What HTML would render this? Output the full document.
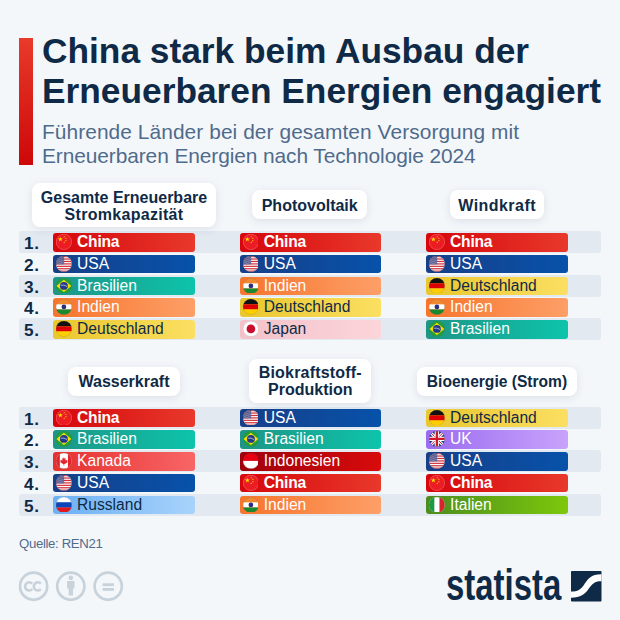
<!DOCTYPE html>
<html><head><meta charset="utf-8"><style>
*{margin:0;padding:0;box-sizing:border-box}
html,body{width:620px;height:620px;overflow:hidden;background:#f4f7fa;font-family:"Liberation Sans",sans-serif}
.abs{position:absolute}
.bar{position:absolute;left:18.7px;top:37.5px;width:14.2px;height:127.2px;background:linear-gradient(180deg,#e93a2a,#cd0808)}
.t{position:absolute;left:42px;font-weight:700;font-size:35.3px;line-height:40px;color:#0f2a46;white-space:nowrap}
.st{position:absolute;left:42px;font-size:20.9px;line-height:24px;color:#4f6b8c;white-space:nowrap}
.rowbg{position:absolute;left:19px;width:581.5px;height:21.7px;background:#e2e9f1;border-radius:3px}
.rank{position:absolute;left:24px;font-weight:700;font-size:17.2px;line-height:18px;height:18px;letter-spacing:0.6px;color:#0f2a46}
.lab{position:absolute;background:#fff;border-radius:8px;box-shadow:0 2px 10px rgba(30,50,80,0.11);color:#0f2a46;font-weight:700;font-size:16px;line-height:17px;padding-top:1.3px;display:flex;align-items:center;justify-content:center;text-align:center}
.pill{position:absolute;width:141.7px;height:18.5px;border-radius:3px;font-size:15.6px;line-height:18px;white-space:nowrap}
.pill span{position:absolute;left:24.1px;top:0}
.flag{position:absolute;left:3px;top:1.0px;width:15.8px;height:15.8px}
.q{position:absolute;left:19px;top:536px;font-size:13.2px;letter-spacing:-0.35px;line-height:16px;color:#4f6b8c}
</style></head><body>
<div class="bar"></div>
<div class="t" style="top:31px">China stark beim Ausbau der</div>
<div class="t" style="top:70.8px">Erneuerbaren Energien engagiert</div>
<div class="st" style="top:119.5px;letter-spacing:0.07px">Führende Länder bei der gesamten Versorgung mit</div>
<div class="st" style="top:144px;letter-spacing:-0.09px">Erneuerbaren Energien nach Technologie 2024</div>
<div class="rowbg" style="top:231.40px"></div>
<div class="rank" style="top:234.00px">1.</div>
<div class="rank" style="top:255.75px">2.</div>
<div class="rowbg" style="top:274.90px"></div>
<div class="rank" style="top:277.50px">3.</div>
<div class="rank" style="top:299.25px">4.</div>
<div class="rowbg" style="top:318.40px"></div>
<div class="rank" style="top:321.00px">5.</div>
<div class="lab" style="left:32.0px;width:184.0px;top:183.0px;height:44.0px"><div>Gesamte Erneuerbare<br><span style="letter-spacing:0.3px">Stromkapazität</span></div></div>
<div class="lab" style="left:252.0px;width:115.4px;top:190.0px;height:29.2px"><div>Photovoltaik</div></div>
<div class="lab" style="left:449.8px;width:94.2px;top:190.2px;height:29.1px"><div><span style="letter-spacing:0.45px;margin-right:-0.45px">Windkraft</span></div></div>
<div class="pill" style="left:53.0px;top:233.00px;background:linear-gradient(90deg,#d6060c,#e8392b);color:#fff;font-weight:700"><svg class="flag" viewBox="0 0 16 16"><defs><clipPath id="cp"><circle cx="8" cy="8" r="8"/></clipPath></defs><g clip-path="url(#cp)"><rect width="16" height="16" fill="#ec1c24"/><g fill="#ffde00"><polygon points="4.40,2.70 5.01,4.57 6.97,4.57 5.38,5.72 5.99,7.58 4.40,6.43 2.81,7.58 3.42,5.72 1.83,4.57 3.79,4.57"/><polygon points="8.30,1.75 8.51,2.41 9.20,2.41 8.65,2.81 8.86,3.47 8.30,3.06 7.74,3.47 7.95,2.81 7.40,2.41 8.09,2.41"/><polygon points="10.00,3.45 10.21,4.11 10.90,4.11 10.35,4.51 10.56,5.17 10.00,4.76 9.44,5.17 9.65,4.51 9.10,4.11 9.79,4.11"/><polygon points="10.00,5.75 10.21,6.41 10.90,6.41 10.35,6.81 10.56,7.47 10.00,7.06 9.44,7.47 9.65,6.81 9.10,6.41 9.79,6.41"/><polygon points="8.30,7.45 8.51,8.11 9.20,8.11 8.65,8.51 8.86,9.17 8.30,8.76 7.74,9.17 7.95,8.51 7.40,8.11 8.09,8.11"/></g></g><circle cx="8" cy="8" r="7.8" fill="none" stroke="rgba(255,230,230,0.55)" stroke-width="0.45"/></svg><span style="letter-spacing:-0.25px">China</span></div>
<div class="pill" style="left:53.0px;top:254.75px;background:linear-gradient(90deg,#173f88,#0752aa);color:#fff;font-weight:400"><svg class="flag" viewBox="0 0 16 16"><defs><clipPath id="cp"><circle cx="8" cy="8" r="8"/></clipPath></defs><g clip-path="url(#cp)"><rect width="16" height="16" fill="#fff"/>
<g fill="#d22f3a"><rect y="0.000" width="16" height="1.231"/><rect y="2.462" width="16" height="1.231"/><rect y="4.924" width="16" height="1.231"/><rect y="7.386" width="16" height="1.231"/><rect y="9.848" width="16" height="1.231"/><rect y="12.310" width="16" height="1.231"/><rect y="14.772" width="16" height="1.231"/></g>
<rect width="8.2" height="8.6" fill="#3f407a"/>
<g fill="#fff" opacity="0.85"><circle cx="0.90" cy="0.90" r="0.42"/><circle cx="2.15" cy="0.90" r="0.42"/><circle cx="3.40" cy="0.90" r="0.42"/><circle cx="4.65" cy="0.90" r="0.42"/><circle cx="5.90" cy="0.90" r="0.42"/><circle cx="7.15" cy="0.90" r="0.42"/><circle cx="1.52" cy="2.05" r="0.42"/><circle cx="2.77" cy="2.05" r="0.42"/><circle cx="4.02" cy="2.05" r="0.42"/><circle cx="5.27" cy="2.05" r="0.42"/><circle cx="6.52" cy="2.05" r="0.42"/><circle cx="7.77" cy="2.05" r="0.42"/><circle cx="0.90" cy="3.20" r="0.42"/><circle cx="2.15" cy="3.20" r="0.42"/><circle cx="3.40" cy="3.20" r="0.42"/><circle cx="4.65" cy="3.20" r="0.42"/><circle cx="5.90" cy="3.20" r="0.42"/><circle cx="7.15" cy="3.20" r="0.42"/><circle cx="1.52" cy="4.35" r="0.42"/><circle cx="2.77" cy="4.35" r="0.42"/><circle cx="4.02" cy="4.35" r="0.42"/><circle cx="5.27" cy="4.35" r="0.42"/><circle cx="6.52" cy="4.35" r="0.42"/><circle cx="7.77" cy="4.35" r="0.42"/><circle cx="0.90" cy="5.50" r="0.42"/><circle cx="2.15" cy="5.50" r="0.42"/><circle cx="3.40" cy="5.50" r="0.42"/><circle cx="4.65" cy="5.50" r="0.42"/><circle cx="5.90" cy="5.50" r="0.42"/><circle cx="7.15" cy="5.50" r="0.42"/><circle cx="1.52" cy="6.65" r="0.42"/><circle cx="2.77" cy="6.65" r="0.42"/><circle cx="4.02" cy="6.65" r="0.42"/><circle cx="5.27" cy="6.65" r="0.42"/><circle cx="6.52" cy="6.65" r="0.42"/><circle cx="7.77" cy="6.65" r="0.42"/><circle cx="0.90" cy="7.80" r="0.42"/><circle cx="2.15" cy="7.80" r="0.42"/><circle cx="3.40" cy="7.80" r="0.42"/><circle cx="4.65" cy="7.80" r="0.42"/><circle cx="5.90" cy="7.80" r="0.42"/><circle cx="7.15" cy="7.80" r="0.42"/><circle cx="1.52" cy="8.95" r="0.42"/><circle cx="2.77" cy="8.95" r="0.42"/><circle cx="4.02" cy="8.95" r="0.42"/><circle cx="5.27" cy="8.95" r="0.42"/><circle cx="6.52" cy="8.95" r="0.42"/><circle cx="7.77" cy="8.95" r="0.42"/></g></g><circle cx="8" cy="8" r="7.8" fill="none" stroke="rgba(90,90,90,0.4)" stroke-width="0.45"/></svg><span>USA</span></div>
<div class="pill" style="left:53.0px;top:276.50px;background:linear-gradient(90deg,#1e9586,#0dc4ab);color:#fff;font-weight:400"><svg class="flag" viewBox="0 0 16 16"><defs><clipPath id="cp"><circle cx="8" cy="8" r="8"/></clipPath></defs><g clip-path="url(#cp)"><rect width="16" height="16" fill="#22a03c"/>
<polygon points="8,1.8 15.5,8 8,14.2 0.5,8" fill="#fedf00"/>
<circle cx="8" cy="8" r="4" fill="#203a8c"/>
<path d="M4.8,7.3 Q8,6.5 11.2,8.6" stroke="#fff" stroke-width="0.6" fill="none"/></g><circle cx="8" cy="8" r="7.8" fill="none" stroke="rgba(90,90,90,0.4)" stroke-width="0.45"/></svg><span>Brasilien</span></div>
<div class="pill" style="left:53.0px;top:298.25px;background:linear-gradient(90deg,#f7752c,#fd9f68);color:#fff;font-weight:400"><svg class="flag" viewBox="0 0 16 16"><defs><clipPath id="cp"><circle cx="8" cy="8" r="8"/></clipPath></defs><g clip-path="url(#cp)"><rect width="16" height="5.4" fill="#f08a30"/>
<rect y="5.4" width="16" height="5.2" fill="#fff"/>
<rect y="10.6" width="16" height="5.4" fill="#1b8a2e"/>
<circle cx="8" cy="8" r="2.4" fill="#2a2f80"/></g><circle cx="8" cy="8" r="7.8" fill="none" stroke="rgba(90,90,90,0.4)" stroke-width="0.45"/></svg><span>Indien</span></div>
<div class="pill" style="left:53.0px;top:320.00px;background:linear-gradient(90deg,#e9c72e,#fbdf62);color:#0f2a46;font-weight:400"><svg class="flag" viewBox="0 0 16 16"><defs><clipPath id="cp"><circle cx="8" cy="8" r="8"/></clipPath></defs><g clip-path="url(#cp)"><rect width="16" height="5.4" fill="#111"/>
<rect y="5.4" width="16" height="5.2" fill="#dd0000"/>
<rect y="10.6" width="16" height="5.4" fill="#ffce00"/></g><circle cx="8" cy="8" r="7.8" fill="none" stroke="rgba(90,90,90,0.4)" stroke-width="0.45"/></svg><span>Deutschland</span></div>
<div class="pill" style="left:239.7px;top:233.00px;background:linear-gradient(90deg,#d6060c,#e8392b);color:#fff;font-weight:700"><svg class="flag" viewBox="0 0 16 16"><defs><clipPath id="cp"><circle cx="8" cy="8" r="8"/></clipPath></defs><g clip-path="url(#cp)"><rect width="16" height="16" fill="#ec1c24"/><g fill="#ffde00"><polygon points="4.40,2.70 5.01,4.57 6.97,4.57 5.38,5.72 5.99,7.58 4.40,6.43 2.81,7.58 3.42,5.72 1.83,4.57 3.79,4.57"/><polygon points="8.30,1.75 8.51,2.41 9.20,2.41 8.65,2.81 8.86,3.47 8.30,3.06 7.74,3.47 7.95,2.81 7.40,2.41 8.09,2.41"/><polygon points="10.00,3.45 10.21,4.11 10.90,4.11 10.35,4.51 10.56,5.17 10.00,4.76 9.44,5.17 9.65,4.51 9.10,4.11 9.79,4.11"/><polygon points="10.00,5.75 10.21,6.41 10.90,6.41 10.35,6.81 10.56,7.47 10.00,7.06 9.44,7.47 9.65,6.81 9.10,6.41 9.79,6.41"/><polygon points="8.30,7.45 8.51,8.11 9.20,8.11 8.65,8.51 8.86,9.17 8.30,8.76 7.74,9.17 7.95,8.51 7.40,8.11 8.09,8.11"/></g></g><circle cx="8" cy="8" r="7.8" fill="none" stroke="rgba(255,230,230,0.55)" stroke-width="0.45"/></svg><span style="letter-spacing:-0.25px">China</span></div>
<div class="pill" style="left:239.7px;top:254.75px;background:linear-gradient(90deg,#173f88,#0752aa);color:#fff;font-weight:400"><svg class="flag" viewBox="0 0 16 16"><defs><clipPath id="cp"><circle cx="8" cy="8" r="8"/></clipPath></defs><g clip-path="url(#cp)"><rect width="16" height="16" fill="#fff"/>
<g fill="#d22f3a"><rect y="0.000" width="16" height="1.231"/><rect y="2.462" width="16" height="1.231"/><rect y="4.924" width="16" height="1.231"/><rect y="7.386" width="16" height="1.231"/><rect y="9.848" width="16" height="1.231"/><rect y="12.310" width="16" height="1.231"/><rect y="14.772" width="16" height="1.231"/></g>
<rect width="8.2" height="8.6" fill="#3f407a"/>
<g fill="#fff" opacity="0.85"><circle cx="0.90" cy="0.90" r="0.42"/><circle cx="2.15" cy="0.90" r="0.42"/><circle cx="3.40" cy="0.90" r="0.42"/><circle cx="4.65" cy="0.90" r="0.42"/><circle cx="5.90" cy="0.90" r="0.42"/><circle cx="7.15" cy="0.90" r="0.42"/><circle cx="1.52" cy="2.05" r="0.42"/><circle cx="2.77" cy="2.05" r="0.42"/><circle cx="4.02" cy="2.05" r="0.42"/><circle cx="5.27" cy="2.05" r="0.42"/><circle cx="6.52" cy="2.05" r="0.42"/><circle cx="7.77" cy="2.05" r="0.42"/><circle cx="0.90" cy="3.20" r="0.42"/><circle cx="2.15" cy="3.20" r="0.42"/><circle cx="3.40" cy="3.20" r="0.42"/><circle cx="4.65" cy="3.20" r="0.42"/><circle cx="5.90" cy="3.20" r="0.42"/><circle cx="7.15" cy="3.20" r="0.42"/><circle cx="1.52" cy="4.35" r="0.42"/><circle cx="2.77" cy="4.35" r="0.42"/><circle cx="4.02" cy="4.35" r="0.42"/><circle cx="5.27" cy="4.35" r="0.42"/><circle cx="6.52" cy="4.35" r="0.42"/><circle cx="7.77" cy="4.35" r="0.42"/><circle cx="0.90" cy="5.50" r="0.42"/><circle cx="2.15" cy="5.50" r="0.42"/><circle cx="3.40" cy="5.50" r="0.42"/><circle cx="4.65" cy="5.50" r="0.42"/><circle cx="5.90" cy="5.50" r="0.42"/><circle cx="7.15" cy="5.50" r="0.42"/><circle cx="1.52" cy="6.65" r="0.42"/><circle cx="2.77" cy="6.65" r="0.42"/><circle cx="4.02" cy="6.65" r="0.42"/><circle cx="5.27" cy="6.65" r="0.42"/><circle cx="6.52" cy="6.65" r="0.42"/><circle cx="7.77" cy="6.65" r="0.42"/><circle cx="0.90" cy="7.80" r="0.42"/><circle cx="2.15" cy="7.80" r="0.42"/><circle cx="3.40" cy="7.80" r="0.42"/><circle cx="4.65" cy="7.80" r="0.42"/><circle cx="5.90" cy="7.80" r="0.42"/><circle cx="7.15" cy="7.80" r="0.42"/><circle cx="1.52" cy="8.95" r="0.42"/><circle cx="2.77" cy="8.95" r="0.42"/><circle cx="4.02" cy="8.95" r="0.42"/><circle cx="5.27" cy="8.95" r="0.42"/><circle cx="6.52" cy="8.95" r="0.42"/><circle cx="7.77" cy="8.95" r="0.42"/></g></g><circle cx="8" cy="8" r="7.8" fill="none" stroke="rgba(90,90,90,0.4)" stroke-width="0.45"/></svg><span>USA</span></div>
<div class="pill" style="left:239.7px;top:276.50px;background:linear-gradient(90deg,#f7752c,#fd9f68);color:#fff;font-weight:400"><svg class="flag" viewBox="0 0 16 16"><defs><clipPath id="cp"><circle cx="8" cy="8" r="8"/></clipPath></defs><g clip-path="url(#cp)"><rect width="16" height="5.4" fill="#f08a30"/>
<rect y="5.4" width="16" height="5.2" fill="#fff"/>
<rect y="10.6" width="16" height="5.4" fill="#1b8a2e"/>
<circle cx="8" cy="8" r="2.4" fill="#2a2f80"/></g><circle cx="8" cy="8" r="7.8" fill="none" stroke="rgba(90,90,90,0.4)" stroke-width="0.45"/></svg><span>Indien</span></div>
<div class="pill" style="left:239.7px;top:298.25px;background:linear-gradient(90deg,#e9c72e,#fbdf62);color:#0f2a46;font-weight:400"><svg class="flag" viewBox="0 0 16 16"><defs><clipPath id="cp"><circle cx="8" cy="8" r="8"/></clipPath></defs><g clip-path="url(#cp)"><rect width="16" height="5.4" fill="#111"/>
<rect y="5.4" width="16" height="5.2" fill="#dd0000"/>
<rect y="10.6" width="16" height="5.4" fill="#ffce00"/></g><circle cx="8" cy="8" r="7.8" fill="none" stroke="rgba(90,90,90,0.4)" stroke-width="0.45"/></svg><span>Deutschland</span></div>
<div class="pill" style="left:239.7px;top:320.00px;background:linear-gradient(90deg,#f3c2c9,#fbd5da);color:#0f2a46;font-weight:400"><svg class="flag" viewBox="0 0 16 16"><defs><clipPath id="cp"><circle cx="8" cy="8" r="8"/></clipPath></defs><g clip-path="url(#cp)"><rect width="16" height="16" fill="#fff"/>
<circle cx="8" cy="8" r="4.4" fill="#c8102e"/></g><circle cx="8" cy="8" r="7.8" fill="none" stroke="rgba(90,90,90,0.4)" stroke-width="0.45"/></svg><span>Japan</span></div>
<div class="pill" style="left:426.0px;top:233.00px;background:linear-gradient(90deg,#d6060c,#e8392b);color:#fff;font-weight:700"><svg class="flag" viewBox="0 0 16 16"><defs><clipPath id="cp"><circle cx="8" cy="8" r="8"/></clipPath></defs><g clip-path="url(#cp)"><rect width="16" height="16" fill="#ec1c24"/><g fill="#ffde00"><polygon points="4.40,2.70 5.01,4.57 6.97,4.57 5.38,5.72 5.99,7.58 4.40,6.43 2.81,7.58 3.42,5.72 1.83,4.57 3.79,4.57"/><polygon points="8.30,1.75 8.51,2.41 9.20,2.41 8.65,2.81 8.86,3.47 8.30,3.06 7.74,3.47 7.95,2.81 7.40,2.41 8.09,2.41"/><polygon points="10.00,3.45 10.21,4.11 10.90,4.11 10.35,4.51 10.56,5.17 10.00,4.76 9.44,5.17 9.65,4.51 9.10,4.11 9.79,4.11"/><polygon points="10.00,5.75 10.21,6.41 10.90,6.41 10.35,6.81 10.56,7.47 10.00,7.06 9.44,7.47 9.65,6.81 9.10,6.41 9.79,6.41"/><polygon points="8.30,7.45 8.51,8.11 9.20,8.11 8.65,8.51 8.86,9.17 8.30,8.76 7.74,9.17 7.95,8.51 7.40,8.11 8.09,8.11"/></g></g><circle cx="8" cy="8" r="7.8" fill="none" stroke="rgba(255,230,230,0.55)" stroke-width="0.45"/></svg><span style="letter-spacing:-0.25px">China</span></div>
<div class="pill" style="left:426.0px;top:254.75px;background:linear-gradient(90deg,#173f88,#0752aa);color:#fff;font-weight:400"><svg class="flag" viewBox="0 0 16 16"><defs><clipPath id="cp"><circle cx="8" cy="8" r="8"/></clipPath></defs><g clip-path="url(#cp)"><rect width="16" height="16" fill="#fff"/>
<g fill="#d22f3a"><rect y="0.000" width="16" height="1.231"/><rect y="2.462" width="16" height="1.231"/><rect y="4.924" width="16" height="1.231"/><rect y="7.386" width="16" height="1.231"/><rect y="9.848" width="16" height="1.231"/><rect y="12.310" width="16" height="1.231"/><rect y="14.772" width="16" height="1.231"/></g>
<rect width="8.2" height="8.6" fill="#3f407a"/>
<g fill="#fff" opacity="0.85"><circle cx="0.90" cy="0.90" r="0.42"/><circle cx="2.15" cy="0.90" r="0.42"/><circle cx="3.40" cy="0.90" r="0.42"/><circle cx="4.65" cy="0.90" r="0.42"/><circle cx="5.90" cy="0.90" r="0.42"/><circle cx="7.15" cy="0.90" r="0.42"/><circle cx="1.52" cy="2.05" r="0.42"/><circle cx="2.77" cy="2.05" r="0.42"/><circle cx="4.02" cy="2.05" r="0.42"/><circle cx="5.27" cy="2.05" r="0.42"/><circle cx="6.52" cy="2.05" r="0.42"/><circle cx="7.77" cy="2.05" r="0.42"/><circle cx="0.90" cy="3.20" r="0.42"/><circle cx="2.15" cy="3.20" r="0.42"/><circle cx="3.40" cy="3.20" r="0.42"/><circle cx="4.65" cy="3.20" r="0.42"/><circle cx="5.90" cy="3.20" r="0.42"/><circle cx="7.15" cy="3.20" r="0.42"/><circle cx="1.52" cy="4.35" r="0.42"/><circle cx="2.77" cy="4.35" r="0.42"/><circle cx="4.02" cy="4.35" r="0.42"/><circle cx="5.27" cy="4.35" r="0.42"/><circle cx="6.52" cy="4.35" r="0.42"/><circle cx="7.77" cy="4.35" r="0.42"/><circle cx="0.90" cy="5.50" r="0.42"/><circle cx="2.15" cy="5.50" r="0.42"/><circle cx="3.40" cy="5.50" r="0.42"/><circle cx="4.65" cy="5.50" r="0.42"/><circle cx="5.90" cy="5.50" r="0.42"/><circle cx="7.15" cy="5.50" r="0.42"/><circle cx="1.52" cy="6.65" r="0.42"/><circle cx="2.77" cy="6.65" r="0.42"/><circle cx="4.02" cy="6.65" r="0.42"/><circle cx="5.27" cy="6.65" r="0.42"/><circle cx="6.52" cy="6.65" r="0.42"/><circle cx="7.77" cy="6.65" r="0.42"/><circle cx="0.90" cy="7.80" r="0.42"/><circle cx="2.15" cy="7.80" r="0.42"/><circle cx="3.40" cy="7.80" r="0.42"/><circle cx="4.65" cy="7.80" r="0.42"/><circle cx="5.90" cy="7.80" r="0.42"/><circle cx="7.15" cy="7.80" r="0.42"/><circle cx="1.52" cy="8.95" r="0.42"/><circle cx="2.77" cy="8.95" r="0.42"/><circle cx="4.02" cy="8.95" r="0.42"/><circle cx="5.27" cy="8.95" r="0.42"/><circle cx="6.52" cy="8.95" r="0.42"/><circle cx="7.77" cy="8.95" r="0.42"/></g></g><circle cx="8" cy="8" r="7.8" fill="none" stroke="rgba(90,90,90,0.4)" stroke-width="0.45"/></svg><span>USA</span></div>
<div class="pill" style="left:426.0px;top:276.50px;background:linear-gradient(90deg,#e9c72e,#fbdf62);color:#0f2a46;font-weight:400"><svg class="flag" viewBox="0 0 16 16"><defs><clipPath id="cp"><circle cx="8" cy="8" r="8"/></clipPath></defs><g clip-path="url(#cp)"><rect width="16" height="5.4" fill="#111"/>
<rect y="5.4" width="16" height="5.2" fill="#dd0000"/>
<rect y="10.6" width="16" height="5.4" fill="#ffce00"/></g><circle cx="8" cy="8" r="7.8" fill="none" stroke="rgba(90,90,90,0.4)" stroke-width="0.45"/></svg><span>Deutschland</span></div>
<div class="pill" style="left:426.0px;top:298.25px;background:linear-gradient(90deg,#f7752c,#fd9f68);color:#fff;font-weight:400"><svg class="flag" viewBox="0 0 16 16"><defs><clipPath id="cp"><circle cx="8" cy="8" r="8"/></clipPath></defs><g clip-path="url(#cp)"><rect width="16" height="5.4" fill="#f08a30"/>
<rect y="5.4" width="16" height="5.2" fill="#fff"/>
<rect y="10.6" width="16" height="5.4" fill="#1b8a2e"/>
<circle cx="8" cy="8" r="2.4" fill="#2a2f80"/></g><circle cx="8" cy="8" r="7.8" fill="none" stroke="rgba(90,90,90,0.4)" stroke-width="0.45"/></svg><span>Indien</span></div>
<div class="pill" style="left:426.0px;top:320.00px;background:linear-gradient(90deg,#1e9586,#0dc4ab);color:#fff;font-weight:400"><svg class="flag" viewBox="0 0 16 16"><defs><clipPath id="cp"><circle cx="8" cy="8" r="8"/></clipPath></defs><g clip-path="url(#cp)"><rect width="16" height="16" fill="#22a03c"/>
<polygon points="8,1.8 15.5,8 8,14.2 0.5,8" fill="#fedf00"/>
<circle cx="8" cy="8" r="4" fill="#203a8c"/>
<path d="M4.8,7.3 Q8,6.5 11.2,8.6" stroke="#fff" stroke-width="0.6" fill="none"/></g><circle cx="8" cy="8" r="7.8" fill="none" stroke="rgba(90,90,90,0.4)" stroke-width="0.45"/></svg><span>Brasilien</span></div>
<div class="rowbg" style="top:406.90px"></div>
<div class="rank" style="top:409.50px">1.</div>
<div class="rank" style="top:431.25px">2.</div>
<div class="rowbg" style="top:450.40px"></div>
<div class="rank" style="top:453.00px">3.</div>
<div class="rank" style="top:474.75px">4.</div>
<div class="rowbg" style="top:493.90px"></div>
<div class="rank" style="top:496.50px">5.</div>
<div class="lab" style="left:67.7px;width:112.6px;top:367.0px;height:28.6px"><div>Wasserkraft</div></div>
<div class="lab" style="left:249.4px;width:121.8px;top:359.0px;height:44.0px"><div><span style="position:relative;top:-1px"><span style="letter-spacing:0.2px">Biokraftstoff-</span><br>Produktion</span></div></div>
<div class="lab" style="left:417.0px;width:160.0px;top:367.0px;height:29.0px"><div><span style="font-size:15.6px;position:relative;top:-1px">Bioenergie (Strom)</span></div></div>
<div class="pill" style="left:53.0px;top:408.50px;background:linear-gradient(90deg,#d6060c,#e8392b);color:#fff;font-weight:700"><svg class="flag" viewBox="0 0 16 16"><defs><clipPath id="cp"><circle cx="8" cy="8" r="8"/></clipPath></defs><g clip-path="url(#cp)"><rect width="16" height="16" fill="#ec1c24"/><g fill="#ffde00"><polygon points="4.40,2.70 5.01,4.57 6.97,4.57 5.38,5.72 5.99,7.58 4.40,6.43 2.81,7.58 3.42,5.72 1.83,4.57 3.79,4.57"/><polygon points="8.30,1.75 8.51,2.41 9.20,2.41 8.65,2.81 8.86,3.47 8.30,3.06 7.74,3.47 7.95,2.81 7.40,2.41 8.09,2.41"/><polygon points="10.00,3.45 10.21,4.11 10.90,4.11 10.35,4.51 10.56,5.17 10.00,4.76 9.44,5.17 9.65,4.51 9.10,4.11 9.79,4.11"/><polygon points="10.00,5.75 10.21,6.41 10.90,6.41 10.35,6.81 10.56,7.47 10.00,7.06 9.44,7.47 9.65,6.81 9.10,6.41 9.79,6.41"/><polygon points="8.30,7.45 8.51,8.11 9.20,8.11 8.65,8.51 8.86,9.17 8.30,8.76 7.74,9.17 7.95,8.51 7.40,8.11 8.09,8.11"/></g></g><circle cx="8" cy="8" r="7.8" fill="none" stroke="rgba(255,230,230,0.55)" stroke-width="0.45"/></svg><span style="letter-spacing:-0.25px">China</span></div>
<div class="pill" style="left:53.0px;top:430.25px;background:linear-gradient(90deg,#1e9586,#0dc4ab);color:#fff;font-weight:400"><svg class="flag" viewBox="0 0 16 16"><defs><clipPath id="cp"><circle cx="8" cy="8" r="8"/></clipPath></defs><g clip-path="url(#cp)"><rect width="16" height="16" fill="#22a03c"/>
<polygon points="8,1.8 15.5,8 8,14.2 0.5,8" fill="#fedf00"/>
<circle cx="8" cy="8" r="4" fill="#203a8c"/>
<path d="M4.8,7.3 Q8,6.5 11.2,8.6" stroke="#fff" stroke-width="0.6" fill="none"/></g><circle cx="8" cy="8" r="7.8" fill="none" stroke="rgba(90,90,90,0.4)" stroke-width="0.45"/></svg><span>Brasilien</span></div>
<div class="pill" style="left:53.0px;top:452.00px;background:linear-gradient(90deg,#e5312e,#f86566);color:#fff;font-weight:400"><svg class="flag" viewBox="0 0 16 16"><defs><clipPath id="cp"><circle cx="8" cy="8" r="8"/></clipPath></defs><g clip-path="url(#cp)"><rect width="16" height="16" fill="#fff"/>
<rect width="3.9" height="16" fill="#e3262d"/><rect x="12.1" width="3.9" height="16" fill="#e3262d"/>
<path d="M8,4.2 L8.8,5.8 L9.9,5.4 L9.4,7.9 L10.7,6.9 L11,7.7 L11.9,7.6 L11.3,9.1 L11.8,9.4 L8.3,11.3 L8.4,12.6 L7.6,12.6 L7.7,11.3 L4.2,9.4 L4.7,9.1 L4.1,7.6 L5,7.7 L5.3,6.9 L6.6,7.9 L6.1,5.4 L7.2,5.8 Z" fill="#e3262d"/></g><circle cx="8" cy="8" r="7.8" fill="none" stroke="rgba(90,90,90,0.4)" stroke-width="0.45"/></svg><span>Kanada</span></div>
<div class="pill" style="left:53.0px;top:473.75px;background:linear-gradient(90deg,#173f88,#0752aa);color:#fff;font-weight:400"><svg class="flag" viewBox="0 0 16 16"><defs><clipPath id="cp"><circle cx="8" cy="8" r="8"/></clipPath></defs><g clip-path="url(#cp)"><rect width="16" height="16" fill="#fff"/>
<g fill="#d22f3a"><rect y="0.000" width="16" height="1.231"/><rect y="2.462" width="16" height="1.231"/><rect y="4.924" width="16" height="1.231"/><rect y="7.386" width="16" height="1.231"/><rect y="9.848" width="16" height="1.231"/><rect y="12.310" width="16" height="1.231"/><rect y="14.772" width="16" height="1.231"/></g>
<rect width="8.2" height="8.6" fill="#3f407a"/>
<g fill="#fff" opacity="0.85"><circle cx="0.90" cy="0.90" r="0.42"/><circle cx="2.15" cy="0.90" r="0.42"/><circle cx="3.40" cy="0.90" r="0.42"/><circle cx="4.65" cy="0.90" r="0.42"/><circle cx="5.90" cy="0.90" r="0.42"/><circle cx="7.15" cy="0.90" r="0.42"/><circle cx="1.52" cy="2.05" r="0.42"/><circle cx="2.77" cy="2.05" r="0.42"/><circle cx="4.02" cy="2.05" r="0.42"/><circle cx="5.27" cy="2.05" r="0.42"/><circle cx="6.52" cy="2.05" r="0.42"/><circle cx="7.77" cy="2.05" r="0.42"/><circle cx="0.90" cy="3.20" r="0.42"/><circle cx="2.15" cy="3.20" r="0.42"/><circle cx="3.40" cy="3.20" r="0.42"/><circle cx="4.65" cy="3.20" r="0.42"/><circle cx="5.90" cy="3.20" r="0.42"/><circle cx="7.15" cy="3.20" r="0.42"/><circle cx="1.52" cy="4.35" r="0.42"/><circle cx="2.77" cy="4.35" r="0.42"/><circle cx="4.02" cy="4.35" r="0.42"/><circle cx="5.27" cy="4.35" r="0.42"/><circle cx="6.52" cy="4.35" r="0.42"/><circle cx="7.77" cy="4.35" r="0.42"/><circle cx="0.90" cy="5.50" r="0.42"/><circle cx="2.15" cy="5.50" r="0.42"/><circle cx="3.40" cy="5.50" r="0.42"/><circle cx="4.65" cy="5.50" r="0.42"/><circle cx="5.90" cy="5.50" r="0.42"/><circle cx="7.15" cy="5.50" r="0.42"/><circle cx="1.52" cy="6.65" r="0.42"/><circle cx="2.77" cy="6.65" r="0.42"/><circle cx="4.02" cy="6.65" r="0.42"/><circle cx="5.27" cy="6.65" r="0.42"/><circle cx="6.52" cy="6.65" r="0.42"/><circle cx="7.77" cy="6.65" r="0.42"/><circle cx="0.90" cy="7.80" r="0.42"/><circle cx="2.15" cy="7.80" r="0.42"/><circle cx="3.40" cy="7.80" r="0.42"/><circle cx="4.65" cy="7.80" r="0.42"/><circle cx="5.90" cy="7.80" r="0.42"/><circle cx="7.15" cy="7.80" r="0.42"/><circle cx="1.52" cy="8.95" r="0.42"/><circle cx="2.77" cy="8.95" r="0.42"/><circle cx="4.02" cy="8.95" r="0.42"/><circle cx="5.27" cy="8.95" r="0.42"/><circle cx="6.52" cy="8.95" r="0.42"/><circle cx="7.77" cy="8.95" r="0.42"/></g></g><circle cx="8" cy="8" r="7.8" fill="none" stroke="rgba(90,90,90,0.4)" stroke-width="0.45"/></svg><span>USA</span></div>
<div class="pill" style="left:53.0px;top:495.50px;background:linear-gradient(90deg,#6cb0f4,#a7d3fb);color:#0f2a46;font-weight:400"><svg class="flag" viewBox="0 0 16 16"><defs><clipPath id="cp"><circle cx="8" cy="8" r="8"/></clipPath></defs><g clip-path="url(#cp)"><rect width="16" height="5.4" fill="#fff"/>
<rect y="5.4" width="16" height="5.2" fill="#0c47b7"/>
<rect y="10.6" width="16" height="5.4" fill="#e4181c"/></g><circle cx="8" cy="8" r="7.8" fill="none" stroke="rgba(90,90,90,0.4)" stroke-width="0.45"/></svg><span>Russland</span></div>
<div class="pill" style="left:239.7px;top:408.50px;background:linear-gradient(90deg,#173f88,#0752aa);color:#fff;font-weight:400"><svg class="flag" viewBox="0 0 16 16"><defs><clipPath id="cp"><circle cx="8" cy="8" r="8"/></clipPath></defs><g clip-path="url(#cp)"><rect width="16" height="16" fill="#fff"/>
<g fill="#d22f3a"><rect y="0.000" width="16" height="1.231"/><rect y="2.462" width="16" height="1.231"/><rect y="4.924" width="16" height="1.231"/><rect y="7.386" width="16" height="1.231"/><rect y="9.848" width="16" height="1.231"/><rect y="12.310" width="16" height="1.231"/><rect y="14.772" width="16" height="1.231"/></g>
<rect width="8.2" height="8.6" fill="#3f407a"/>
<g fill="#fff" opacity="0.85"><circle cx="0.90" cy="0.90" r="0.42"/><circle cx="2.15" cy="0.90" r="0.42"/><circle cx="3.40" cy="0.90" r="0.42"/><circle cx="4.65" cy="0.90" r="0.42"/><circle cx="5.90" cy="0.90" r="0.42"/><circle cx="7.15" cy="0.90" r="0.42"/><circle cx="1.52" cy="2.05" r="0.42"/><circle cx="2.77" cy="2.05" r="0.42"/><circle cx="4.02" cy="2.05" r="0.42"/><circle cx="5.27" cy="2.05" r="0.42"/><circle cx="6.52" cy="2.05" r="0.42"/><circle cx="7.77" cy="2.05" r="0.42"/><circle cx="0.90" cy="3.20" r="0.42"/><circle cx="2.15" cy="3.20" r="0.42"/><circle cx="3.40" cy="3.20" r="0.42"/><circle cx="4.65" cy="3.20" r="0.42"/><circle cx="5.90" cy="3.20" r="0.42"/><circle cx="7.15" cy="3.20" r="0.42"/><circle cx="1.52" cy="4.35" r="0.42"/><circle cx="2.77" cy="4.35" r="0.42"/><circle cx="4.02" cy="4.35" r="0.42"/><circle cx="5.27" cy="4.35" r="0.42"/><circle cx="6.52" cy="4.35" r="0.42"/><circle cx="7.77" cy="4.35" r="0.42"/><circle cx="0.90" cy="5.50" r="0.42"/><circle cx="2.15" cy="5.50" r="0.42"/><circle cx="3.40" cy="5.50" r="0.42"/><circle cx="4.65" cy="5.50" r="0.42"/><circle cx="5.90" cy="5.50" r="0.42"/><circle cx="7.15" cy="5.50" r="0.42"/><circle cx="1.52" cy="6.65" r="0.42"/><circle cx="2.77" cy="6.65" r="0.42"/><circle cx="4.02" cy="6.65" r="0.42"/><circle cx="5.27" cy="6.65" r="0.42"/><circle cx="6.52" cy="6.65" r="0.42"/><circle cx="7.77" cy="6.65" r="0.42"/><circle cx="0.90" cy="7.80" r="0.42"/><circle cx="2.15" cy="7.80" r="0.42"/><circle cx="3.40" cy="7.80" r="0.42"/><circle cx="4.65" cy="7.80" r="0.42"/><circle cx="5.90" cy="7.80" r="0.42"/><circle cx="7.15" cy="7.80" r="0.42"/><circle cx="1.52" cy="8.95" r="0.42"/><circle cx="2.77" cy="8.95" r="0.42"/><circle cx="4.02" cy="8.95" r="0.42"/><circle cx="5.27" cy="8.95" r="0.42"/><circle cx="6.52" cy="8.95" r="0.42"/><circle cx="7.77" cy="8.95" r="0.42"/></g></g><circle cx="8" cy="8" r="7.8" fill="none" stroke="rgba(90,90,90,0.4)" stroke-width="0.45"/></svg><span>USA</span></div>
<div class="pill" style="left:239.7px;top:430.25px;background:linear-gradient(90deg,#1e9586,#0dc4ab);color:#fff;font-weight:400"><svg class="flag" viewBox="0 0 16 16"><defs><clipPath id="cp"><circle cx="8" cy="8" r="8"/></clipPath></defs><g clip-path="url(#cp)"><rect width="16" height="16" fill="#22a03c"/>
<polygon points="8,1.8 15.5,8 8,14.2 0.5,8" fill="#fedf00"/>
<circle cx="8" cy="8" r="4" fill="#203a8c"/>
<path d="M4.8,7.3 Q8,6.5 11.2,8.6" stroke="#fff" stroke-width="0.6" fill="none"/></g><circle cx="8" cy="8" r="7.8" fill="none" stroke="rgba(90,90,90,0.4)" stroke-width="0.45"/></svg><span>Brasilien</span></div>
<div class="pill" style="left:239.7px;top:452.00px;background:linear-gradient(90deg,#a0000b,#d80b0b);color:#fff;font-weight:400"><svg class="flag" viewBox="0 0 16 16"><defs><clipPath id="cp"><circle cx="8" cy="8" r="8"/></clipPath></defs><g clip-path="url(#cp)"><rect width="16" height="8" fill="#e70011"/>
<rect y="8" width="16" height="8" fill="#fff"/></g><circle cx="8" cy="8" r="7.8" fill="none" stroke="rgba(90,90,90,0.4)" stroke-width="0.45"/></svg><span>Indonesien</span></div>
<div class="pill" style="left:239.7px;top:473.75px;background:linear-gradient(90deg,#d6060c,#e8392b);color:#fff;font-weight:700"><svg class="flag" viewBox="0 0 16 16"><defs><clipPath id="cp"><circle cx="8" cy="8" r="8"/></clipPath></defs><g clip-path="url(#cp)"><rect width="16" height="16" fill="#ec1c24"/><g fill="#ffde00"><polygon points="4.40,2.70 5.01,4.57 6.97,4.57 5.38,5.72 5.99,7.58 4.40,6.43 2.81,7.58 3.42,5.72 1.83,4.57 3.79,4.57"/><polygon points="8.30,1.75 8.51,2.41 9.20,2.41 8.65,2.81 8.86,3.47 8.30,3.06 7.74,3.47 7.95,2.81 7.40,2.41 8.09,2.41"/><polygon points="10.00,3.45 10.21,4.11 10.90,4.11 10.35,4.51 10.56,5.17 10.00,4.76 9.44,5.17 9.65,4.51 9.10,4.11 9.79,4.11"/><polygon points="10.00,5.75 10.21,6.41 10.90,6.41 10.35,6.81 10.56,7.47 10.00,7.06 9.44,7.47 9.65,6.81 9.10,6.41 9.79,6.41"/><polygon points="8.30,7.45 8.51,8.11 9.20,8.11 8.65,8.51 8.86,9.17 8.30,8.76 7.74,9.17 7.95,8.51 7.40,8.11 8.09,8.11"/></g></g><circle cx="8" cy="8" r="7.8" fill="none" stroke="rgba(255,230,230,0.55)" stroke-width="0.45"/></svg><span style="letter-spacing:-0.25px">China</span></div>
<div class="pill" style="left:239.7px;top:495.50px;background:linear-gradient(90deg,#f7752c,#fd9f68);color:#fff;font-weight:400"><svg class="flag" viewBox="0 0 16 16"><defs><clipPath id="cp"><circle cx="8" cy="8" r="8"/></clipPath></defs><g clip-path="url(#cp)"><rect width="16" height="5.4" fill="#f08a30"/>
<rect y="5.4" width="16" height="5.2" fill="#fff"/>
<rect y="10.6" width="16" height="5.4" fill="#1b8a2e"/>
<circle cx="8" cy="8" r="2.4" fill="#2a2f80"/></g><circle cx="8" cy="8" r="7.8" fill="none" stroke="rgba(90,90,90,0.4)" stroke-width="0.45"/></svg><span>Indien</span></div>
<div class="pill" style="left:426.0px;top:408.50px;background:linear-gradient(90deg,#e9c72e,#fbdf62);color:#0f2a46;font-weight:400"><svg class="flag" viewBox="0 0 16 16"><defs><clipPath id="cp"><circle cx="8" cy="8" r="8"/></clipPath></defs><g clip-path="url(#cp)"><rect width="16" height="5.4" fill="#111"/>
<rect y="5.4" width="16" height="5.2" fill="#dd0000"/>
<rect y="10.6" width="16" height="5.4" fill="#ffce00"/></g><circle cx="8" cy="8" r="7.8" fill="none" stroke="rgba(90,90,90,0.4)" stroke-width="0.45"/></svg><span>Deutschland</span></div>
<div class="pill" style="left:426.0px;top:430.25px;background:linear-gradient(90deg,#9a6cf0,#c9a2fc);color:#fff;font-weight:400"><svg class="flag" viewBox="0 0 16 16"><defs><clipPath id="cp"><circle cx="8" cy="8" r="8"/></clipPath></defs><g clip-path="url(#cp)"><rect width="16" height="16" fill="#1f3a8a"/>
<path d="M0,0 L16,16 M16,0 L0,16" stroke="#fff" stroke-width="3"/>
<path d="M0,0 L16,16 M16,0 L0,16" stroke="#d0182a" stroke-width="1"/>
<path d="M8,0 V16 M0,8 H16" stroke="#fff" stroke-width="4.4"/>
<path d="M8,0 V16 M0,8 H16" stroke="#d0182a" stroke-width="2.4"/></g><circle cx="8" cy="8" r="7.8" fill="none" stroke="rgba(90,90,90,0.4)" stroke-width="0.45"/></svg><span>UK</span></div>
<div class="pill" style="left:426.0px;top:452.00px;background:linear-gradient(90deg,#173f88,#0752aa);color:#fff;font-weight:400"><svg class="flag" viewBox="0 0 16 16"><defs><clipPath id="cp"><circle cx="8" cy="8" r="8"/></clipPath></defs><g clip-path="url(#cp)"><rect width="16" height="16" fill="#fff"/>
<g fill="#d22f3a"><rect y="0.000" width="16" height="1.231"/><rect y="2.462" width="16" height="1.231"/><rect y="4.924" width="16" height="1.231"/><rect y="7.386" width="16" height="1.231"/><rect y="9.848" width="16" height="1.231"/><rect y="12.310" width="16" height="1.231"/><rect y="14.772" width="16" height="1.231"/></g>
<rect width="8.2" height="8.6" fill="#3f407a"/>
<g fill="#fff" opacity="0.85"><circle cx="0.90" cy="0.90" r="0.42"/><circle cx="2.15" cy="0.90" r="0.42"/><circle cx="3.40" cy="0.90" r="0.42"/><circle cx="4.65" cy="0.90" r="0.42"/><circle cx="5.90" cy="0.90" r="0.42"/><circle cx="7.15" cy="0.90" r="0.42"/><circle cx="1.52" cy="2.05" r="0.42"/><circle cx="2.77" cy="2.05" r="0.42"/><circle cx="4.02" cy="2.05" r="0.42"/><circle cx="5.27" cy="2.05" r="0.42"/><circle cx="6.52" cy="2.05" r="0.42"/><circle cx="7.77" cy="2.05" r="0.42"/><circle cx="0.90" cy="3.20" r="0.42"/><circle cx="2.15" cy="3.20" r="0.42"/><circle cx="3.40" cy="3.20" r="0.42"/><circle cx="4.65" cy="3.20" r="0.42"/><circle cx="5.90" cy="3.20" r="0.42"/><circle cx="7.15" cy="3.20" r="0.42"/><circle cx="1.52" cy="4.35" r="0.42"/><circle cx="2.77" cy="4.35" r="0.42"/><circle cx="4.02" cy="4.35" r="0.42"/><circle cx="5.27" cy="4.35" r="0.42"/><circle cx="6.52" cy="4.35" r="0.42"/><circle cx="7.77" cy="4.35" r="0.42"/><circle cx="0.90" cy="5.50" r="0.42"/><circle cx="2.15" cy="5.50" r="0.42"/><circle cx="3.40" cy="5.50" r="0.42"/><circle cx="4.65" cy="5.50" r="0.42"/><circle cx="5.90" cy="5.50" r="0.42"/><circle cx="7.15" cy="5.50" r="0.42"/><circle cx="1.52" cy="6.65" r="0.42"/><circle cx="2.77" cy="6.65" r="0.42"/><circle cx="4.02" cy="6.65" r="0.42"/><circle cx="5.27" cy="6.65" r="0.42"/><circle cx="6.52" cy="6.65" r="0.42"/><circle cx="7.77" cy="6.65" r="0.42"/><circle cx="0.90" cy="7.80" r="0.42"/><circle cx="2.15" cy="7.80" r="0.42"/><circle cx="3.40" cy="7.80" r="0.42"/><circle cx="4.65" cy="7.80" r="0.42"/><circle cx="5.90" cy="7.80" r="0.42"/><circle cx="7.15" cy="7.80" r="0.42"/><circle cx="1.52" cy="8.95" r="0.42"/><circle cx="2.77" cy="8.95" r="0.42"/><circle cx="4.02" cy="8.95" r="0.42"/><circle cx="5.27" cy="8.95" r="0.42"/><circle cx="6.52" cy="8.95" r="0.42"/><circle cx="7.77" cy="8.95" r="0.42"/></g></g><circle cx="8" cy="8" r="7.8" fill="none" stroke="rgba(90,90,90,0.4)" stroke-width="0.45"/></svg><span>USA</span></div>
<div class="pill" style="left:426.0px;top:473.75px;background:linear-gradient(90deg,#d6060c,#e8392b);color:#fff;font-weight:700"><svg class="flag" viewBox="0 0 16 16"><defs><clipPath id="cp"><circle cx="8" cy="8" r="8"/></clipPath></defs><g clip-path="url(#cp)"><rect width="16" height="16" fill="#ec1c24"/><g fill="#ffde00"><polygon points="4.40,2.70 5.01,4.57 6.97,4.57 5.38,5.72 5.99,7.58 4.40,6.43 2.81,7.58 3.42,5.72 1.83,4.57 3.79,4.57"/><polygon points="8.30,1.75 8.51,2.41 9.20,2.41 8.65,2.81 8.86,3.47 8.30,3.06 7.74,3.47 7.95,2.81 7.40,2.41 8.09,2.41"/><polygon points="10.00,3.45 10.21,4.11 10.90,4.11 10.35,4.51 10.56,5.17 10.00,4.76 9.44,5.17 9.65,4.51 9.10,4.11 9.79,4.11"/><polygon points="10.00,5.75 10.21,6.41 10.90,6.41 10.35,6.81 10.56,7.47 10.00,7.06 9.44,7.47 9.65,6.81 9.10,6.41 9.79,6.41"/><polygon points="8.30,7.45 8.51,8.11 9.20,8.11 8.65,8.51 8.86,9.17 8.30,8.76 7.74,9.17 7.95,8.51 7.40,8.11 8.09,8.11"/></g></g><circle cx="8" cy="8" r="7.8" fill="none" stroke="rgba(255,230,230,0.55)" stroke-width="0.45"/></svg><span style="letter-spacing:-0.25px">China</span></div>
<div class="pill" style="left:426.0px;top:495.50px;background:linear-gradient(90deg,#4b8d1f,#7dc80b);color:#fff;font-weight:400"><svg class="flag" viewBox="0 0 16 16"><defs><clipPath id="cp"><circle cx="8" cy="8" r="8"/></clipPath></defs><g clip-path="url(#cp)"><rect width="16" height="16" fill="#fff"/>
<rect width="5.4" height="16" fill="#1a9a45"/><rect x="10.6" width="5.4" height="16" fill="#d8232a"/></g><circle cx="8" cy="8" r="7.8" fill="none" stroke="rgba(90,90,90,0.4)" stroke-width="0.45"/></svg><span>Italien</span></div>
<div class="q">Quelle: REN21</div>
<svg class="abs" style="left:0;top:560px" width="140" height="50" viewBox="0 560 140 50">
 <g fill="none" stroke="#c8d2db" stroke-width="2.7">
  <circle cx="33.6" cy="586.2" r="13.6"/><circle cx="70.8" cy="586.2" r="13.6"/><circle cx="108.2" cy="586.2" r="13.6"/>
 </g>
 <g fill="none" stroke="#c8d2db" stroke-width="2.6">
  <path d="M32.2,583.6 A4.1,4.1 0 1 0 32.2,589.2"/>
  <path d="M40.9,583.6 A4.1,4.1 0 1 0 40.9,589.2"/>
 </g>
 <g fill="#c8d2db">
  <circle cx="70.8" cy="577.9" r="2.3"/>
  <rect x="67.1" y="580.9" width="7.4" height="7.6" rx="0.8"/>
  <rect x="68.6" y="587.5" width="4.4" height="8"/>
  <rect x="102.6" y="583.3" width="11.4" height="2.8"/>
  <rect x="102.6" y="588" width="11.4" height="2.8"/>
 </g>
</svg>
<div class="abs" style="left:446px;top:565px;width:120px;height:40px;overflow:visible">
 <span style="position:absolute;left:0;top:0;font-weight:700;font-size:44.5px;line-height:40px;color:#0f2a46;transform-origin:0 0;transform:scaleX(0.74);letter-spacing:0px">statista</span>
</div>
<svg class="abs" style="left:571px;top:571px" width="30.5" height="30.5" viewBox="0 0 30 30">
 <rect width="30" height="30" rx="0.8" fill="#0f2a46"/>
 <path d="M0,20.2 C7,20.2 9.5,18 12.5,14 C16.5,8 19.5,3.2 30,3.2 L30,10 C23.5,9.8 21,12.3 17.5,17.3 C13.5,23.3 9.5,26.3 0,26.3 Z" fill="#fff"/>
</svg>
</body></html>
